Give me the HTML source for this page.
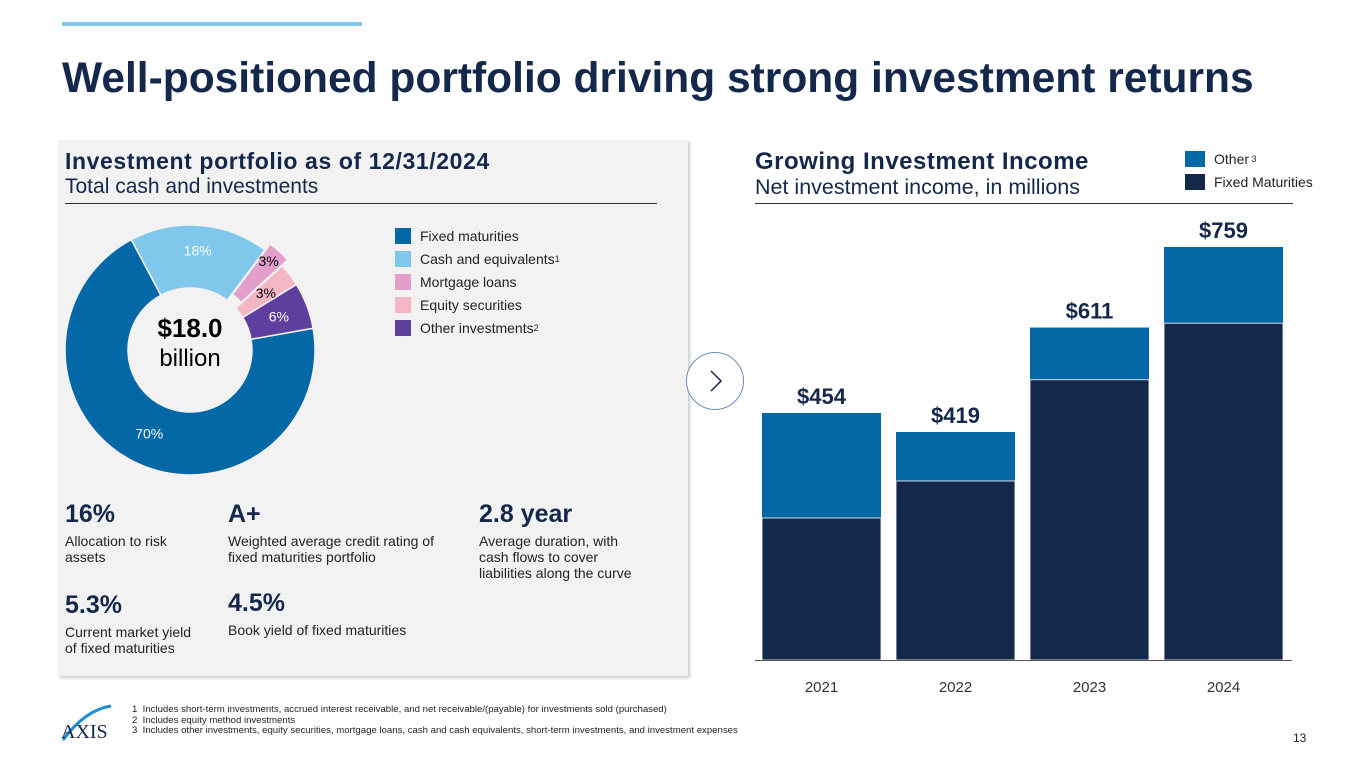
<!DOCTYPE html>
<html><head><meta charset="utf-8">
<style>
body{margin:0;width:1365px;height:768px;background:#fff;font-family:"Liberation Sans",sans-serif;position:relative;overflow:hidden;color:#000}
.abs{position:absolute}
.kpi b{display:block;font-size:25px;color:#14284b;font-weight:bold;margin-bottom:6px;line-height:26px}
.kpi{font-size:14px;color:#222;line-height:16px}
.leg{font-size:14px;color:#222;display:flex;align-items:center;height:23px}
.leg i{display:inline-block;width:16px;height:16px;margin-right:9px}
</style></head><body>
<div class="abs" style="left:62px;top:22px;width:300px;height:4px;background:#7fc8ec"></div>
<div class="abs" style="left:62px;top:55px;font-size:42.5px;font-weight:bold;color:#14284b;white-space:nowrap">Well-positioned portfolio driving strong investment returns</div>

<div class="abs" style="left:58px;top:140px;width:630px;height:536px;background:#f2f2f2;box-shadow:2px 2px 3px #ccc"></div>
<div class="abs" style="left:65px;top:148px;font-size:23px;letter-spacing:0.6px;font-weight:bold;color:#14284b;white-space:nowrap">Investment portfolio as of 12/31/2024</div>
<div class="abs" style="left:65px;top:175px;font-size:21px;color:#14284b;white-space:nowrap">Total cash and investments</div>
<div class="abs" style="left:65px;top:203px;width:592px;height:1px;background:#333"></div>

<svg class="abs" style="left:0;top:0" width="700" height="500">
<g id="donut"></g>
<text x="190" y="337" text-anchor="middle" font-size="26" font-weight="bold" fill="#000">$18.0</text>
<text x="190" y="366" text-anchor="middle" font-size="24" fill="#000">billion</text>
</svg>

<div class="abs" style="left:395px;top:224px">
<div class="leg"><i style="background:#0568a6"></i>Fixed maturities</div>
<div class="leg"><i style="background:#7fc8ec"></i>Cash and equivalents<sup style="font-size:9px">1</sup></div>
<div class="leg"><i style="background:#e29fcb"></i>Mortgage loans</div>
<div class="leg"><i style="background:#f4b6c5"></i>Equity securities</div>
<div class="leg"><i style="background:#5e3f9e"></i>Other investments<sup style="font-size:9px">2</sup></div>
</div>

<div class="abs kpi" style="left:65px;top:501px;width:125px"><b>16%</b>Allocation to risk assets</div>
<div class="abs kpi" style="left:228px;top:501px;width:230px"><b>A+</b>Weighted average credit rating of fixed maturities portfolio</div>
<div class="abs kpi" style="left:479px;top:501px;width:170px"><b>2.8 year</b>Average duration, with cash flows to cover liabilities along the curve</div>
<div class="abs kpi" style="left:65px;top:592px;width:140px"><b>5.3%</b>Current market yield of fixed maturities</div>
<div class="abs kpi" style="left:228px;top:590px;width:230px"><b>4.5%</b>Book yield of fixed maturities</div>

<div class="abs" style="left:686px;top:352px;width:58px;height:58px;border-radius:50%;border:1px solid #6a8bb3;background:#fff;box-sizing:border-box"><svg width="58" height="58" style="position:absolute;left:-1px;top:-1px"><polyline points="25,19 35,29 25,39" fill="none" stroke="#14284b" stroke-width="1.5"/></svg></div>

<div class="abs" style="left:755px;top:148px;font-size:24px;letter-spacing:0.5px;font-weight:bold;color:#14284b;white-space:nowrap">Growing Investment Income</div>
<div class="abs" style="left:755px;top:175px;font-size:21.5px;color:#14284b;white-space:nowrap">Net investment income, in millions</div>
<div class="abs" style="left:755px;top:203px;width:538px;height:1px;background:#333"></div>
<div class="abs" style="left:1185px;top:147px">
<div class="leg"><i style="background:#0568a6;width:20px"></i>Other<sup style="font-size:9px">&nbsp;3</sup></div>
<div class="leg"><i style="background:#14284b;width:20px"></i>Fixed Maturities</div>
</div>
<svg class="abs" style="left:0;top:0" width="1365" height="768" pointer-events="none"><g id="bars"></g></svg>

<svg class="abs" style="left:55px;top:700px" width="60" height="50">
<path d="M8,40 Q30,10 56,6" fill="none" stroke="#1b8fd1" stroke-width="3"/>
<text x="6" y="38" font-family="Liberation Serif" font-size="20" fill="#14284b">AXIS</text></svg>
<div class="abs" style="left:132px;top:705px;font-size:9.6px;line-height:10.5px;color:#222;white-space:nowrap">1&nbsp; Includes short-term investments, accrued interest receivable, and net receivable/(payable) for investments sold (purchased)<br>2&nbsp; Includes equity method investments<br>3&nbsp; Includes other investments, equity securities, mortgage loans, cash and cash equivalents, short-term investments, and investment expenses</div>
<div class="abs" style="left:1293px;top:731px;font-size:12px;color:#222">13</div>

<script>
// Donut data
const sliceNames=["Fixed maturities","Cash and equivalents","Mortgage loans","Equity securities","Other investments"];
const slicePct=[70,18,3,3,6];
const sliceColors=["#0568a6","#7fc8ec","#e29fcb","#f4b6c5","#5e3f9e"];
const sliceLabelColors=["#fff","#fff","#000","#000","#fff"];
const NS="http://www.w3.org/2000/svg";
(function(){
 const g=document.getElementById('donut');const cx=190,cy=350,R=125,r=62;
 const total=slicePct.reduce((a,b)=>a+b,0);let a0=80;
 slicePct.forEach((v,i)=>{
  const sweep=v/total*360,a1=a0+sweep,mid=(a0+a1)/2*Math.PI/180;
  const off=i==2?8:0,ox=off*Math.sin(mid),oy=-off*Math.cos(mid);
  const pt=(rad,a)=>[cx+ox+rad*Math.sin(a*Math.PI/180),cy+oy-rad*Math.cos(a*Math.PI/180)];
  const [x1,y1]=pt(R,a0),[x2,y2]=pt(R,a1),[x3,y3]=pt(r,a1),[x4,y4]=pt(r,a0);const lg=sweep>180?1:0;
  const p=document.createElementNS(NS,'path');
  p.setAttribute('d',`M${x1},${y1}A${R},${R} 0 ${lg} 1 ${x2},${y2}L${x3},${y3}A${r},${r} 0 ${lg} 0 ${x4},${y4}Z`);
  p.setAttribute('fill',sliceColors[i]);p.setAttribute('stroke','#f2f2f2');p.setAttribute('stroke-width','1.5');
  
  
  g.appendChild(p);
  const lr=i==0?93:(i==1?100:(i==2?112:95));const t=document.createElementNS(NS,'text');
  t.setAttribute('x',cx+ox+lr*Math.sin(mid)+(i==2?-2:0));t.setAttribute('y',cy+oy-lr*Math.cos(mid)+5);
  t.setAttribute('text-anchor','middle');t.setAttribute('font-size','14');t.setAttribute('fill',sliceLabelColors[i]);
  t.textContent=v+'%';
  
  
  g.appendChild(t);a0=a1;
 });
})();
// Bar data
const years=["2021","2022","2023","2024"];
const fixedVals=[261,329,515,619];
const totalVals=[454,419,611,759];
const totalLabels=["$454","$419","$611","$759"];
(function(){
 const g=document.getElementById('bars');const base=660,k=413/759,x0=762,step=134,w=119;
 const y=v=>base-v*k;
 years.forEach((yr,i)=>{
  const x=x0+i*step;
  const o=document.createElementNS(NS,'rect');o.setAttribute('x',x);o.setAttribute('y',y(totalVals[i]));o.setAttribute('width',w);o.setAttribute('height',(totalVals[i]-fixedVals[i])*k);o.setAttribute('fill','#0568a6');
  
  
  g.appendChild(o);
  const f=document.createElementNS(NS,'rect');f.setAttribute('x',x);f.setAttribute('y',y(fixedVals[i]));f.setAttribute('width',w);f.setAttribute('height',fixedVals[i]*k);f.setAttribute('fill','#14284b');f.setAttribute('stroke','#fff');f.setAttribute('stroke-width','0.8');
  
  
  g.appendChild(f);
  const t=document.createElementNS(NS,'text');t.setAttribute('x',x+w/2);t.setAttribute('y',y(totalVals[i])-9);t.setAttribute('text-anchor','middle');t.setAttribute('font-size','22');t.setAttribute('font-weight','bold');t.setAttribute('fill','#14284b');t.textContent=totalLabels[i];
  
  
  g.appendChild(t);
  const l=document.createElementNS(NS,'text');l.setAttribute('x',x+w/2);l.setAttribute('y',692);l.setAttribute('text-anchor','middle');l.setAttribute('font-size','15');l.setAttribute('fill','#333');l.textContent=yr;
  
  
  g.appendChild(l);
 });
 const ax=document.createElementNS(NS,'line');ax.setAttribute('x1',755);ax.setAttribute('x2',1292);ax.setAttribute('y1',base+.5);ax.setAttribute('y2',base+.5);ax.setAttribute('stroke','#555');
 
 
 g.appendChild(ax);
})();
</script>
</body></html>
